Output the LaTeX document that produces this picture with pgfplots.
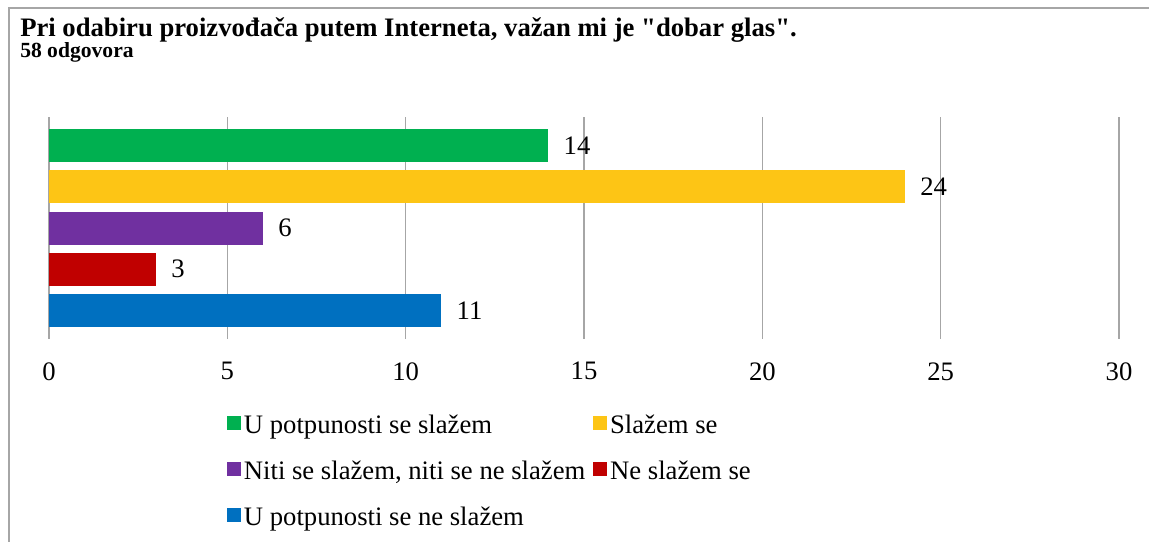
\documentclass[border=0pt]{standalone}
\usepackage{pgfplots}
\pgfplotsset{compat=1.18}
\usepackage{fontspec}
\setmainfont{Liberation Serif}[Ligatures=TeXOff]
\definecolor{cgreen}{HTML}{00B050}
\definecolor{cyellow}{HTML}{FDC515}
\definecolor{cpurple}{HTML}{7030A0}
\definecolor{cred}{HTML}{C00000}
\definecolor{cblue}{HTML}{0070C0}
\definecolor{gridc}{HTML}{A6A6A6}
\begin{document}
\begin{tikzpicture}
\useasboundingbox (-36.75pt,-152.25pt) rectangle (825pt,254.25pt);
\draw[gridc, line width=1pt] (-30pt,-152.25pt) -- (-30pt,248.25pt) -- (825pt,248.25pt);
\node[anchor=base west, font=\fontsize{20}{24}\selectfont\bfseries, inner sep=0pt] at (-21.75pt,226.5pt) {Pri odabiru proizvođača putem Interneta, važan mi je "dobar glas".};
\node[anchor=base west, font=\fontsize{16.2}{19}\selectfont\bfseries, inner sep=0pt] at (-21.75pt,210.75pt) {58 odgovora};
\begin{axis}[
 scale only axis, width=802.5pt, height=166.5pt,
 xmin=0, xmax=30, ymin=-0.69, ymax=4.69, y dir=reverse,
 xbar, bar width=24.75pt, bar shift=0pt,
 xtick={0,5,...,30}, ytick=\empty,
 xmajorgrids, grid style={gridc, line width=1pt},
 axis line style={draw=none},
 major tick length=0pt,
 ticklabel style={font=\fontsize{20}{24}\selectfont},
 /pgf/number format/assume math mode=true,
 xticklabel style={yshift=-14pt},
 nodes near coords,
 nodes near coords style={font=\fontsize{20}{24}\selectfont, xshift=8pt, text=black},
 legend columns=2,
 legend cell align=left,
 legend style={draw=none, font=\fontsize{20}{24}\selectfont, at={(0.166,-0.3255)}, anchor=north west, row sep=14.6pt, inner sep=0pt,
   /tikz/every even column/.append style={column sep=3.5pt},
   nodes={inner sep=2.3pt}},
 legend image code/.code={\fill[#1] (0pt,-3.75pt) rectangle (10.5pt,6.75pt);},
]
\addplot[fill=cgreen, draw=none] coordinates {(14,0)};
\addplot[fill=cyellow, draw=none] coordinates {(24,1)};
\addplot[fill=cpurple, draw=none] coordinates {(6,2)};
\addplot[fill=cred, draw=none] coordinates {(3,3)};
\addplot[fill=cblue, draw=none] coordinates {(11,4)};
\legend{U potpunosti se slažem, Slažem se, {Niti se slažem, niti se ne slažem}, Ne slažem se, U potpunosti se ne slažem}
\end{axis}
\end{tikzpicture}
\end{document}
